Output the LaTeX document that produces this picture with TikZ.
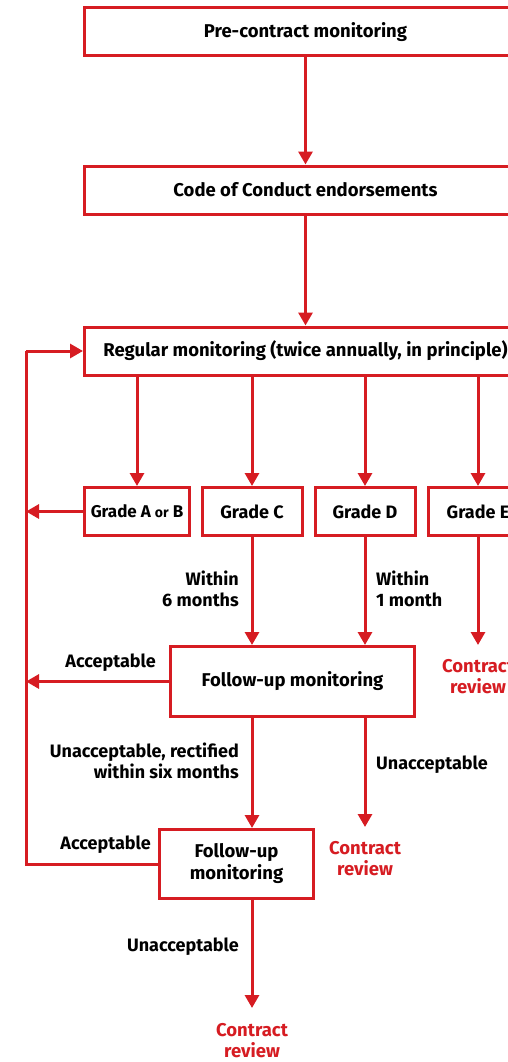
\documentclass[tikz,border=0pt]{standalone}
\usepackage{fontspec}
\setmainfont{Fira Sans}
\usetikzlibrary{arrows.meta}
\definecolor{cred}{RGB}{214,28,34}
\begin{document}
\begin{tikzpicture}[x=1pt,y=-1pt,
  box/.style={draw=cred,line width=3pt,fill=white,inner sep=0pt,font=\fontsize{18.5}{22}\selectfont\bfseries,align=center},
  lbl/.style={inner sep=0pt,font=\fontsize{18}{21}\selectfont\bfseries},
  crv/.style={inner sep=0pt,text=cred,font=\fontsize{18.5}{21}\selectfont\bfseries,align=center},
  arr/.style={draw=cred,line width=3pt,-{Triangle[length=13pt,width=14pt]}},
  ln/.style={draw=cred,line width=3pt}]
\useasboundingbox (0,0) rectangle (508,1062);
\clip (0,0) rectangle (508,1062);
\node[box,minimum width=442,minimum height=48] (pre) at (305.5,32) {Pre-contract monitoring};
\node[box,minimum width=442,minimum height=48] (coc) at (305.5,190) {Code of Conduct endorsements};
\node[box,minimum width=442,minimum height=48] (reg) at (305.5,351) {Regular monitoring (twice annually, in principle)};
\node[box,minimum width=105,minimum height=48,font=\fontsize{17}{20}\selectfont\bfseries] (ga) at (137,511.5) {Grade A {\fontsize{14}{16}\selectfont or} B};
\node[box,minimum width=100,minimum height=48,font=\fontsize{18}{20}\selectfont\bfseries] (gc) at (252,511.5) {Grade C};
\node[box,minimum width=100,minimum height=48,font=\fontsize{18}{20}\selectfont\bfseries] (gd) at (365,511.5) {Grade D};
\node[box,minimum width=100,minimum height=48,font=\fontsize{18}{20}\selectfont\bfseries] (ge) at (478,511.5) {Grade E};
\node[box,minimum width=244,minimum height=70] (fu1) at (292.5,681.5) {Follow-up monitoring};
\node[box,minimum width=154,minimum height=69] (fu2) at (236.5,864) {Follow-up\\monitoring};
\node[crv,anchor=north] (cr1) at (478,659) {Contract\\review};
\node[crv,anchor=north] (cr2) at (365,841) {Contract\\review};
\node[crv,anchor=north] (cr3) at (252,1023) {Contract\\review};
\coordinate (ltop) at (26,351);
\coordinate (lbot) at (26,864);
% labels
\node[lbl,anchor=east,align=right] (l1) at (239,589) {Within\\6 months};
\node[lbl,anchor=west,align=left] (l2) at (376,589) {Within\\1 month};
\node[lbl,anchor=east] (l3) at (156,663) {Acceptable};
\node[lbl,anchor=east,align=right] (l4) at (239,761) {Unacceptable, rectified\\within six months};
\node[lbl,anchor=west] (l5) at (376,765) {Unacceptable};
\node[lbl,anchor=east] (l6) at (151,845) {Acceptable};
\node[lbl,anchor=east] (l7) at (239,947) {Unacceptable};
% connectors
\draw[arr] (pre) -- (coc);
\draw[arr] (coc) -- (reg);
\draw[arr] (reg.south -| ga) -- (ga.north);
\draw[arr] (reg.south -| gc) -- (gc.north);
\draw[arr] (reg.south -| gd) -- (gd.north);
\draw[arr] (reg.south -| ge) -- (ge.north);
\draw[arr] (gc.south) -- (fu1.north -| gc);
\draw[arr] (gd.south) -- (fu1.north -| gd);
\draw[arr] (ge.south) -- ([yshift=14pt]cr1.north);
\draw[arr] (ga.west) -- (ga.west -| ltop);
\draw[arr] (fu1.west) -- (fu1.west -| ltop);
\draw[arr] (fu1.south -| gc) -- (fu2.north -| gc);
\draw[arr] (fu1.south -| gd) -- ([yshift=14pt]cr2.north);
\draw[arr] (fu2.south -| gc) -- ([yshift=15pt]cr3.north);
\draw[ln,line join=miter] (fu2.west) -- (lbot) -- (ltop);
\draw[arr] (ltop) -- (reg.west);
\end{tikzpicture}
\end{document}
